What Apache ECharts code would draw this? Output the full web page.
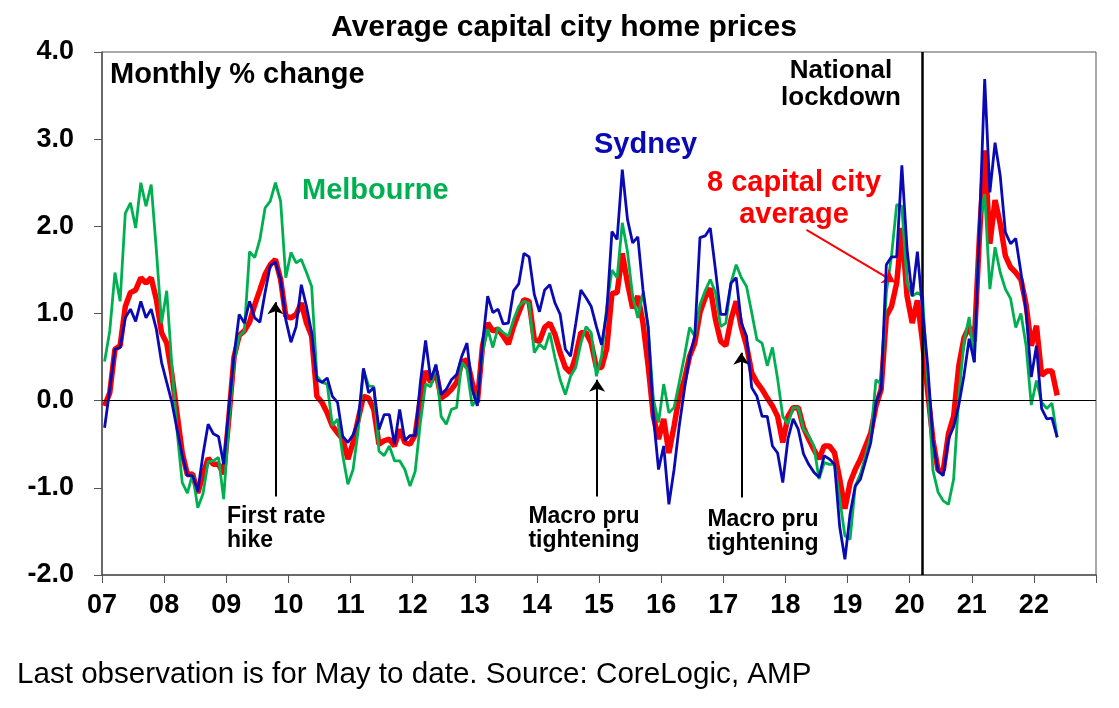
<!DOCTYPE html>
<html>
<head>
<meta charset="utf-8">
<script src="https://cdn.jsdelivr.net/npm/echarts@6/dist/echarts.min.js"></script>
<style>
  html, body { margin: 0; padding: 0; background: #fff; }
  #chart { width: 1119px; height: 708px; }
</style>
</head>
<body>
<div id="chart"></div>
<script>
// monthly % change, Jan 2007 .. May 2022 (one value per month)
const startYear = 2007;

const sydney = [
  -0.31, 0.13, 0.59, 0.61, 0.95, 1.05, 0.91, 1.14, 0.95, 1.05, 0.82, 0.44,
  0.21, -0.02, -0.33, -0.63, -0.86, -0.86, -1.04, -0.62, -0.27, -0.38, -0.41, -0.73,
  -0.10, 0.51, 0.99, 0.89, 1.14, 0.95, 0.90, 1.24, 1.55, 1.59, 1.39, 0.93,
  0.67, 0.85, 1.33, 1.08, 0.78, 0.24, 0.21, 0.26, 0.05, -0.02, -0.41, -0.48,
  -0.39, -0.23, 0.37, 0.09, 0.15, -0.33, -0.16, -0.16, -0.50, -0.10, -0.46, -0.40,
  -0.40, 0.21, 0.69, 0.24, 0.41, 0.07, 0.13, 0.24, 0.30, 0.51, 0.66, 0.13,
  -0.06, 0.65, 1.20, 1.01, 1.05, 0.88, 0.89, 1.26, 1.34, 1.69, 1.65, 1.22,
  1.02, 1.27, 1.33, 1.12, 0.99, 0.59, 0.51, 0.88, 1.27, 1.18, 1.08, 0.85,
  0.64, 1.02, 1.94, 1.85, 2.65, 2.08, 1.81, 1.88, 1.27, 0.85, -0.18, -0.79,
  -0.52, -1.19, -0.79, -0.29, 0.13, 0.51, 0.74, 1.87, 1.89, 1.98, 1.50, 0.99,
  0.99, 1.35, 1.41, 0.89, 0.74, 0.15, 0.05, -0.18, -0.18, -0.52, -0.60, -0.94,
  -0.44, -0.21, -0.33, -0.61, -0.73, -0.82, -0.88, -0.63, -0.67, -0.73, -1.45, -1.82,
  -1.30, -0.98, -0.90, -0.69, -0.48, -0.02, 0.13, 1.56, 1.65, 1.65, 2.70, 1.74,
  1.20, 1.71, 1.03, 0.40, -0.46, -0.81, -0.86, -0.44, -0.30, -0.05, 0.29, 0.71,
  0.44, 2.02, 3.69, 2.39, 2.96, 2.58, 1.93, 1.80, 1.86, 1.47, 1.02, 0.27,
  0.63, -0.09, -0.21, -0.20, -0.42
];

const melbourne = [
  0.45, 0.80, 1.47, 1.14, 2.15, 2.27, 1.98, 2.50, 2.23, 2.48, 1.73, 0.89,
  1.26, 0.40, -0.35, -0.94, -1.06, -0.84, -1.23, -1.07, -0.70, -0.69, -0.65, -1.13,
  -0.25, 0.44, 0.74, 0.80, 1.71, 1.64, 1.85, 2.21, 2.29, 2.50, 2.29, 1.41,
  1.70, 1.58, 1.62, 1.47, 1.31, 0.28, 0.21, 0.19, -0.29, -0.21, -0.63, -0.96,
  -0.79, -0.33, 0.36, 0.17, 0.16, -0.58, -0.63, -0.52, -0.69, -0.69, -0.79, -0.98,
  -0.81, -0.25, 0.19, 0.16, 0.42, -0.18, -0.27, -0.10, -0.08, 0.44, 0.36, -0.06,
  0.03, 0.55, 0.82, 0.61, 0.84, 0.78, 0.74, 0.93, 1.08, 1.14, 1.12, 0.55,
  0.65, 0.59, 0.78, 0.49, 0.24, 0.07, 0.28, 0.38, 0.66, 0.85, 0.78, 0.28,
  0.51, 1.08, 1.50, 1.41, 2.04, 1.71, 1.20, 0.95, 1.24, 0.82, 0.02, -0.25,
  0.19, -0.14, -0.08, 0.21, 0.51, 0.84, 0.74, 1.10, 1.26, 1.39, 1.24, 0.85,
  0.89, 1.35, 1.56, 1.41, 1.31, 1.01, 0.70, 0.66, 0.40, 0.61, 0.25, -0.18,
  -0.27, -0.08, -0.08, -0.33, -0.40, -0.52, -0.90, -0.71, -0.73, -0.73, -1.13, -1.55,
  -1.59, -0.98, -0.84, -0.63, -0.40, 0.24, 0.19, 1.24, 1.66, 2.25, 2.23, 1.35,
  1.20, 1.24, 1.20, 0.20, -0.80, -1.05, -1.15, -1.19, -0.90, 0.05, 0.67, 0.96,
  0.44, 2.05, 2.37, 1.28, 1.76, 1.47, 1.28, 1.17, 0.84, 1.00, 0.63, -0.05,
  0.23, -0.02, -0.09, -0.03, -0.42
];

const capitals = [
  -0.06, 0.09, 0.59, 0.63, 1.08, 1.24, 1.27, 1.41, 1.35, 1.41, 1.16, 0.78,
  0.66, 0.30, -0.15, -0.60, -0.85, -0.84, -1.06, -0.85, -0.66, -0.73, -0.73, -0.84,
  -0.20, 0.50, 0.75, 0.80, 0.90, 1.10, 1.27, 1.45, 1.56, 1.62, 1.39, 0.97,
  0.95, 0.99, 1.12, 0.89, 0.74, 0.05, -0.02, -0.14, -0.29, -0.37, -0.44, -0.67,
  -0.48, -0.21, 0.05, 0.03, -0.10, -0.50, -0.46, -0.44, -0.52, -0.33, -0.48, -0.50,
  -0.39, 0.02, 0.34, 0.21, 0.34, 0.03, 0.07, 0.13, 0.21, 0.44, 0.47, 0.21,
  -0.02, 0.63, 0.89, 0.80, 0.82, 0.74, 0.65, 0.85, 1.01, 1.16, 1.14, 0.70,
  0.68, 0.84, 0.89, 0.76, 0.55, 0.38, 0.32, 0.51, 0.78, 0.78, 0.66, 0.38,
  0.38, 0.60, 1.23, 1.24, 1.69, 1.35, 1.06, 1.20, 0.89, 0.40, -0.18, -0.44,
  -0.21, -0.60, -0.29, 0.05, 0.24, 0.51, 0.66, 1.01, 1.18, 1.29, 0.93, 0.68,
  0.63, 0.93, 1.14, 0.84, 0.63, 0.32, 0.21, 0.13, 0.03, -0.06, -0.18, -0.48,
  -0.18, -0.08, -0.08, -0.31, -0.44, -0.56, -0.67, -0.52, -0.52, -0.60, -0.90, -1.24,
  -0.94, -0.79, -0.67, -0.52, -0.37, -0.06, 0.13, 0.97, 1.08, 1.35, 1.98, 1.20,
  0.89, 1.15, 0.67, 0.10, -0.45, -0.80, -0.80, -0.38, -0.18, 0.40, 0.72, 0.85,
  0.68, 1.90, 2.87, 1.80, 2.30, 2.03, 1.66, 1.53, 1.47, 1.39, 1.10, 0.63,
  0.86, 0.29, 0.34, 0.34, 0.06
];

const lockdownAt = 2020.2;

const FONT = '"Liberation Sans", Arial, sans-serif';
const BLUE = '#0a0ab4';
const GREEN = '#00b050';
const RED = '#ff0000';

// month index -> decimal year (placed mid-month)
const toPoints = arr => arr.map((v, i) => [startYear + (i + 0.5) / 12, v]);

// vertical black annotation arrow, in data coords
const arrow = (x, y0, y1) => [{ coord: [x, y0] }, { coord: [x, y1] }];

const chart = echarts.init(document.getElementById('chart'));

const txt = (x, y, text, size, color, extra) => ({
  type: 'text', x, y,
  style: Object.assign({
    text, font: 'bold ' + size + 'px ' + FONT, fill: color,
    align: 'left', verticalAlign: 'middle'
  }, extra || {})
});

chart.setOption({
  backgroundColor: '#fff',
  animation: false,
  textStyle: { fontFamily: FONT },
  grid: {
    left: 102, right: 23, top: 52, bottom: 133,
    show: true, borderColor: '#555', borderWidth: 1
  },
  xAxis: {
    type: 'value',
    min: 2007, max: 2023, interval: 1,
    axisLine: { onZero: false, lineStyle: { color: '#555', width: 1.5 } },
    axisTick: { inside: false, length: 8, lineStyle: { color: '#555' } },
    splitLine: { show: false },
    axisLabel: {
      margin: 17,
      fontFamily: FONT, fontSize: 27, fontWeight: 'bold', color: '#000',
      formatter: v => (v >= 2023 ? '' : String(v).slice(2))
    }
  },
  yAxis: {
    type: 'value',
    min: -2, max: 4, interval: 1,
    axisLine: { show: true, lineStyle: { color: '#555', width: 1.5 } },
    axisTick: { show: true, inside: false, length: 8, lineStyle: { color: '#555' } },
    splitLine: { show: false },
    axisLabel: {
      margin: 28,
      fontFamily: FONT, fontSize: 27, fontWeight: 'bold', color: '#000',
      formatter: v => v.toFixed(1)
    }
  },
  series: [
    {
      name: '8 capital city average',
      type: 'line',
      data: toPoints(capitals),
      showSymbol: false,
      lineStyle: { color: RED, width: 5.5 },
      z: 3,
      markLine: {
        silent: true,
        animation: false,
        symbol: 'none',
        label: { show: false },
        data: [
          { yAxis: 0, lineStyle: { color: '#000', width: 1, type: 'solid' } },
          { xAxis: lockdownAt, lineStyle: { color: '#000', width: 2.5, type: 'solid' } }
        ]
      }
    },
    {
      name: 'Melbourne',
      type: 'line',
      data: toPoints(melbourne),
      showSymbol: false,
      lineStyle: { color: GREEN, width: 2.8 },
      z: 4
    },
    {
      name: 'Sydney',
      type: 'line',
      data: toPoints(sydney),
      showSymbol: false,
      lineStyle: { color: BLUE, width: 2.8 },
      z: 5,
      markLine: {
        silent: true,
        animation: false,
        symbol: ['none', 'arrow'],
        symbolSize: 12,
        label: { show: false },
        itemStyle: { color: '#000' },
        lineStyle: { color: '#000', width: 2, type: 'solid' },
        data: [
          arrow(2009.79, -1.1, 1.13),
          arrow(2014.97, -1.1, 0.24),
          arrow(2017.29, -1.11, 0.55),
          [
            { coord: [2018.34, 1.96], lineStyle: { color: RED, width: 2 }, itemStyle: { color: RED } },
            { coord: [2019.76, 1.36] }
          ]
        ]
      }
    }
  ],
  graphic: [
    txt(564, 28, 'Average capital city home prices', 30, '#000', { align: 'center' }),
    txt(110, 75, 'Monthly % change', 29, '#000'),
    txt(302, 191, 'Melbourne', 29, GREEN),
    txt(594, 145, 'Sydney', 29, BLUE),
    txt(794, 167, '8 capital city\naverage', 29, RED,
        { align: 'center', verticalAlign: 'top', lineHeight: 32 }),
    txt(841, 57, 'National\nlockdown', 26, '#000',
        { align: 'center', verticalAlign: 'top', lineHeight: 27 }),
    txt(227, 505, 'First rate\nhike', 23, '#000',
        { align: 'left', verticalAlign: 'top', lineHeight: 24 }),
    txt(584, 505, 'Macro pru\ntightening', 23, '#000',
        { align: 'center', verticalAlign: 'top', lineHeight: 24 }),
    txt(763, 508, 'Macro pru\ntightening', 23, '#000',
        { align: 'center', verticalAlign: 'top', lineHeight: 24 }),
    {
      type: 'text', x: 17, y: 675,
      style: {
        text: 'Last observation is for May to date. Source: CoreLogic, AMP',
        font: '29.6px ' + FONT, fill: '#000', verticalAlign: 'middle'
      }
    }
  ]
});
</script>
</body>
</html>
